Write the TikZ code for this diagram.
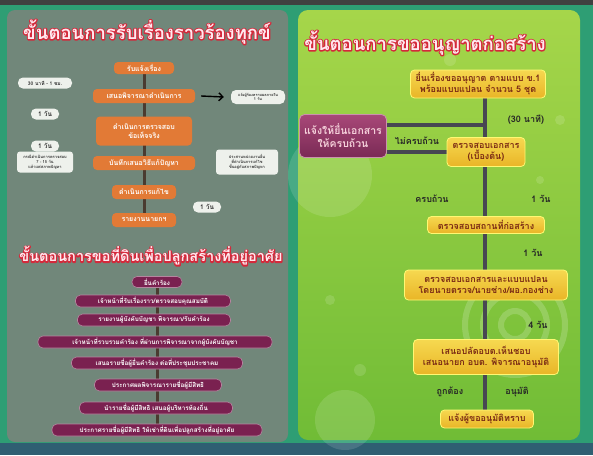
\documentclass[tikz,border=0pt]{standalone}
\usepackage{fontspec}
\setmainfont[Script=Thai]{Loma}
\usetikzlibrary{arrows.meta}
\definecolor{outerbg}{HTML}{2E9E74}
\definecolor{leftbg}{HTML}{71877A}
\definecolor{rtop}{HTML}{A6D64A}
\definecolor{rbot}{HTML}{70BC36}
\definecolor{orangebox}{HTML}{E27A36}
\definecolor{purplebox}{HTML}{7A2150}
\definecolor{goldtop}{HTML}{F6D850}
\definecolor{goldbot}{HTML}{E9B527}
\definecolor{goldtext}{HTML}{7A2A14}
\definecolor{titlefill}{HTML}{FFEAF0}
\definecolor{llinec}{HTML}{4A3B30}
\definecolor{rlinec}{HTML}{474752}
\definecolor{bubble}{HTML}{EEF1EC}
\definecolor{magtop}{HTML}{A84878}
\definecolor{magbot}{HTML}{7A2A55}
\definecolor{magtext}{HTML}{F5D0DA}
\definecolor{bottomstrip}{HTML}{2F5F72}
% red stroke drawn behind, light fill on top
\newcommand{\redoutline}[1]{\rlap{\special{pdf:literal direct 1 Tr 2.4 w 1 J 1 j 0.83 0.16 0.23 RG}#1\special{pdf:literal direct 0 Tr}}#1}
\pgfdeclarelayer{bg}
\pgfdeclarelayer{mid}
\pgfsetlayers{bg,mid,main}
\tikzset{
  obox/.style={fill=orangebox, text=white, rounded corners=4pt, inner sep=1.5pt,
    font=\fontsize{7}{8.5}\selectfont\bfseries, align=center},
  pbox/.style={fill=purplebox, text=white, rounded corners=5pt, inner sep=1.5pt,
    draw=purplebox!55!white, line width=0.6pt, minimum height=12pt,
    font=\fontsize{6.3}{7.5}\selectfont\bfseries, align=center},
  gbox/.style={top color=goldtop, bottom color=goldbot, draw=yellow!55!white,
    line width=0.8pt, rounded corners=4pt, text=goldtext, align=center, inner sep=2pt,
    font=\fontsize{9}{11}\selectfont\bfseries},
  mbox/.style={top color=magtop, bottom color=magbot, draw=magtop!60!white,
    line width=0.8pt, rounded corners=5pt, text=magtext, align=center, inner sep=2pt,
    font=\fontsize{10.5}{13}\selectfont\bfseries},
  bub/.style={fill=bubble, rounded corners=5pt, text=black!80, align=center, inner sep=1pt,
    font=\fontsize{5.5}{6.5}\selectfont\bfseries},
  lab/.style={text=black!85, font=\fontsize{9}{11}\selectfont\bfseries, inner sep=1pt},
  ttl/.style={text=titlefill, inner sep=0pt},
  lline/.style={draw=llinec, line width=3pt},
  rline/.style={draw=rlinec, line width=4.5pt},
  arr/.style={draw=black, line width=1.4pt, -{Straight Barb[length=4pt,width=8pt]}},
  glow/.style={fill=white, fill opacity=0.13},
  ring/.style={draw=white, draw opacity=0.18, line width=6pt}
}
\begin{document}
\begin{tikzpicture}[x=1pt,y=-1pt]
\useasboundingbox (0,0) rectangle (593,455);
\begin{pgfonlayer}{bg}
  \fill[outerbg] (0,0) rectangle (593,455);
  \fill[black!75] (0,0) rectangle (593,5);
  \fill[leftbg] [rounded corners=8pt] (7,10) rectangle (288,442);
  \shade[top color=rtop, bottom color=rbot, rounded corners=10pt] (298,10) rectangle (580,440);
  \fill[bottomstrip] (0,443) rectangle (593,455);
  \fill[glow] (330,175) circle (42);
  \fill[glow] (345,420) circle (30);
  \draw[ring] (515,325) circle (14);
  \draw[ring] (515,325) circle (32);
  \draw[ring] (515,325) circle (50);
  \fill[glow] (450,60) circle (6);
  \fill[glow] (560,120) circle (5);
  \fill[glow] (330,300) circle (5);
  \fill[glow] (360,370) circle (6);
  \fill[glow] (540,180) circle (4);
\end{pgfonlayer}

% ---------- left panel, part 1 ----------
\node[ttl] (t1) at (147,32) {\fontsize{18.5}{20}\selectfont\bfseries\redoutline{ขั้นตอนการรับเรื่องราวร้องทุกข์}};
\node[obox, minimum width=60pt, minimum height=12pt] (l1) at (144,68) {รับแจ้งเรื่อง};
\node[obox, minimum width=102pt, minimum height=14pt] (l2) at (144,96) {เสนอพิจารณาดำเนินการ};
\node[obox, minimum width=96pt, minimum height=29pt] (l3) at (144,131) {ดำเนินการตรวจสอบ\\ข้อเท็จจริง};
\node[obox, minimum width=102pt, minimum height=14pt] (l4) at (144,163) {บันทึกเสนอวิธีแก้ปัญหา};
\node[obox, minimum width=64pt, minimum height=14pt] (l5) at (144,192) {ดำเนินการแก้ไข};
\node[obox, minimum width=64pt, minimum height=14pt] (l6) at (144,220) {รายงานนายกฯ};
\begin{pgfonlayer}{mid}
  \draw[lline] (l1) -- (l6);
\end{pgfonlayer}

\node[bub, minimum width=54pt, minimum height=11pt, font=\fontsize{5}{6}\selectfont\bfseries] (b1) at (45,83) {30 นาที - 1 ชม.};
\node[bub, minimum width=28pt, minimum height=11pt, font=\fontsize{6.5}{7}\selectfont\bfseries] (b2) at (45,114) {1 วัน};
\node[bub, minimum width=28pt, minimum height=11pt, font=\fontsize{6.5}{7}\selectfont\bfseries] (b3) at (45,146) {1 วัน};
\node[bub, rounded corners=3pt, minimum width=56pt, minimum height=21pt, font=\fontsize{4}{4.8}\selectfont\bfseries] (b4) at (45,162) {กรณีดำเนินการตรวจสอบ\\7 - 15 วัน\\แล้วแต่สภาพปัญหา};
\node[bub, minimum width=54pt, minimum height=14pt, font=\fontsize{3.8}{4.5}\selectfont\bfseries] (b5) at (258,97) {แจ้งผู้ร้องทราบผลภายใน\\1 วัน};
\node[bub, rounded corners=3pt, minimum width=62pt, minimum height=25pt, font=\fontsize{4}{4.8}\selectfont\bfseries] (b6) at (247,162) {ประสานหน่วยงานอื่น\\ที่ดำเนินการแก้ไข\\ขึ้นอยู่กับสภาพปัญหา};
\node[bub, minimum width=28pt, minimum height=11pt, font=\fontsize{6.5}{7}\selectfont\bfseries] (b7) at (207,207) {1 วัน};
\draw[arr] ([xshift=6pt]l2.east) -- ([xshift=-7pt]b5.west);

% ---------- left panel, part 2 ----------
\node[ttl] (t2) at (151,256) {\fontsize{14.5}{16}\selectfont\bfseries\redoutline{ขั้นตอนการขอที่ดินเพื่อปลูกสร้างที่อยู่อาศัย}};
\node[pbox, minimum width=50pt, minimum height=11pt] (p1) at (157,282) {ยื่นคำร้อง};
\node[pbox, minimum width=155pt] (p2) at (153,301) {เจ้าหน้าที่รับเรื่องราว/ตรวจสอบคุณสมบัติ};
\node[pbox, minimum width=153pt] (p3) at (154,320) {รายงานผู้บังคับบัญชา พิจารณา/รับคำร้อง};
\node[pbox, minimum width=234pt] (p4) at (155,342) {เจ้าหน้าที่รวบรวมคำร้อง ที่ผ่านการพิจารณาจากผู้บังคับบัญชา};
\node[pbox, minimum width=171pt] (p5) at (157,363) {เสนอรายชื่อผู้ยื่นคำร้อง ต่อที่ประชุมประชาคม};
\node[pbox, minimum width=127pt] (p6) at (158,385) {ประกาศผลพิจารณารายชื่อผู้มีสิทธิ};
\node[pbox, minimum width=153pt] (p7) at (156,408) {นำรายชื่อผู้มีสิทธิ เสนอผู้บริหารท้องถิ่น};
\node[pbox, minimum width=210pt] (p8) at (157,430) {ประกาศรายชื่อผู้มีสิทธิ ให้เช่าที่ดินเพื่อปลูกสร้างที่อยู่อาศัย};
\begin{pgfonlayer}{mid}
  \draw[lline] (p1) -- (p8);
\end{pgfonlayer}

% ---------- right panel ----------
\node[ttl] (t3) at (425,43) {\fontsize{18.5}{21}\selectfont\bfseries\redoutline{ขั้นตอนการขออนุญาตก่อสร้าง}};
\node[gbox, minimum width=135pt, minimum height=28pt] (r1) at (478,84) {ยื่นเรื่องขออนุญาต ตามแบบ ข.1\\พร้อมแบบแปลน จำนวน 5 ชุด};
\node[gbox, minimum width=78pt, minimum height=29pt] (r2) at (486,152) {ตรวจสอบเอกสาร\\(เบื้องต้น)};
\node[gbox, minimum width=117pt, minimum height=17pt] (r3) at (486,225) {ตรวจสอบสถานที่ก่อสร้าง};
\node[gbox, minimum width=163pt, minimum height=30pt] (r4) at (486,285) {ตรวจสอบเอกสารและแบบแปลน\\โดยนายตรวจ/นายช่าง/ผอ.กองช่าง};
\node[gbox, minimum width=145pt, minimum height=35pt] (r5) at (486,357) {เสนอปลัดอบต.เห็นชอบ\\เสนอนายก อบต. พิจารณาอนุมัติ};
\node[gbox, minimum width=93pt, minimum height=18pt] (r6) at (487,419) {แจ้งผู้ขออนุมัติทราบ};
\node[mbox, minimum width=87pt, minimum height=43pt] (rp) at (343,136) {แจ้งให้ยื่นเอกสาร\\ให้ครบถ้วน};
\coordinate (rx) at (485,125);
\begin{pgfonlayer}{mid}
  \draw[rline] (r1.south -| rx) -- (r6.north -| rx);
  \draw[rline] (rp.east |- rx) -- (rx);
  \draw[rline] (rp.east |- r2.west) -- (r2.west);
\end{pgfonlayer}

\node[lab] (l30) at (526,120) {(30 นาที)};
\node[lab] (lno) at (417,141) {ไม่ครบถ้วน};
\node[lab] (lok) at (432,199) {ครบถ้วน};
\node[lab] (ld1) at (541,199) {1 วัน};
\node[lab] (ld2) at (533,253) {1 วัน};
\node[lab] (ld3) at (538,325) {4 วัน};
\node[lab] (lcor) at (450,392) {ถูกต้อง};
\node[lab] (lapp) at (517,392) {อนุมัติ};
\end{tikzpicture}
\end{document}
